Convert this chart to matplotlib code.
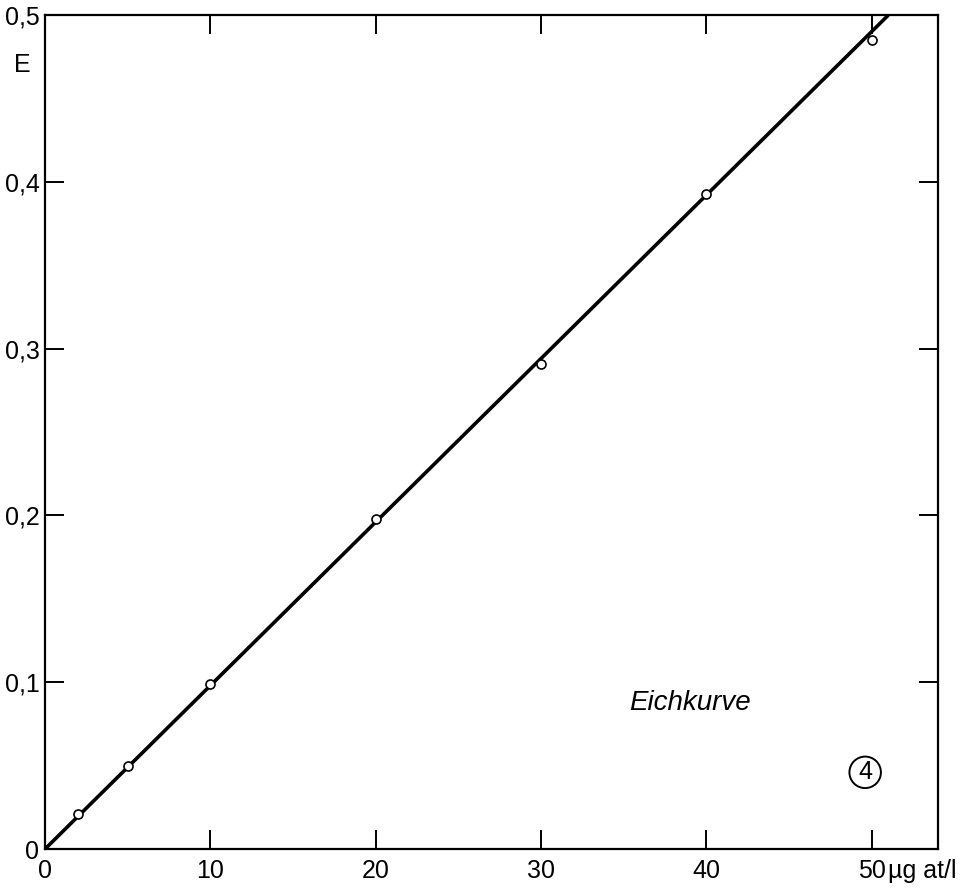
import numpy as np
import matplotlib
matplotlib.use("Agg")
import matplotlib.pyplot as plt

plt.rcParams['font.family'] = ['Liberation Sans', 'DejaVu Sans']

# calibration measurements (concentration, extinction)
conc = [2, 5, 10, 20, 30, 40, 50]
extinction = [0.021, 0.050, 0.099, 0.198, 0.291, 0.393, 0.485]

# fitted calibration line
line_x = [0, 51.0]
line_y = [0, 0.5]

x_ticks = [0, 10, 20, 30, 40, 50]
x_labels = ["0", "10", "20", "30", "40", "50"]
y_ticks = [0, 0.1, 0.2, 0.3, 0.4, 0.5]
y_labels = ["0", "0,1", "0,2", "0,3", "0,4", "0,5"]

fig = plt.figure(figsize=(9.61, 8.90), dpi=100)
ax = fig.add_axes([0.0468, 0.046, 0.9292, 0.937])

ax.plot(line_x, line_y, color='black', lw=2.6, solid_capstyle='butt', zorder=2)
ax.plot(conc, extinction, 'o', ms=6.5, mfc='white', mec='black', mew=1.2, zorder=3)

ax.set_xlim(0, 54)
ax.set_ylim(0, 0.5)
ax.set_xticks(x_ticks)
ax.set_xticklabels(x_labels)
ax.set_yticks(y_ticks)
ax.set_yticklabels(y_labels)
ax.tick_params(direction='in', length=14, width=1.4, top=True, right=True,
               labelsize=18)
ax.tick_params(axis='x', pad=7)
ax.tick_params(axis='y', pad=4)
for s in ax.spines.values():
    s.set_linewidth(1.6)

# unit after the 50 label, running off the edge
ax.annotate("µg at/l", xy=(50, 0), xycoords=('data', 'axes fraction'),
            xytext=(12, -7), textcoords='offset points', fontsize=18,
            ha='left', va='top', annotation_clip=False)
fig.text(22 / 961, 1 - 65 / 890, "E", fontsize=18, ha='center', va='center')

ax.text(39.0, 0.0875, "Eichkurve", fontsize=20, style='italic',
        ha='center', va='center')
ax.text(49.6, 0.046, "4", fontsize=18, ha='center', va='center',
        bbox=dict(boxstyle='circle,pad=0.15', fc='none', ec='black', lw=1.4))

fig.savefig("out.png", dpi=100)
